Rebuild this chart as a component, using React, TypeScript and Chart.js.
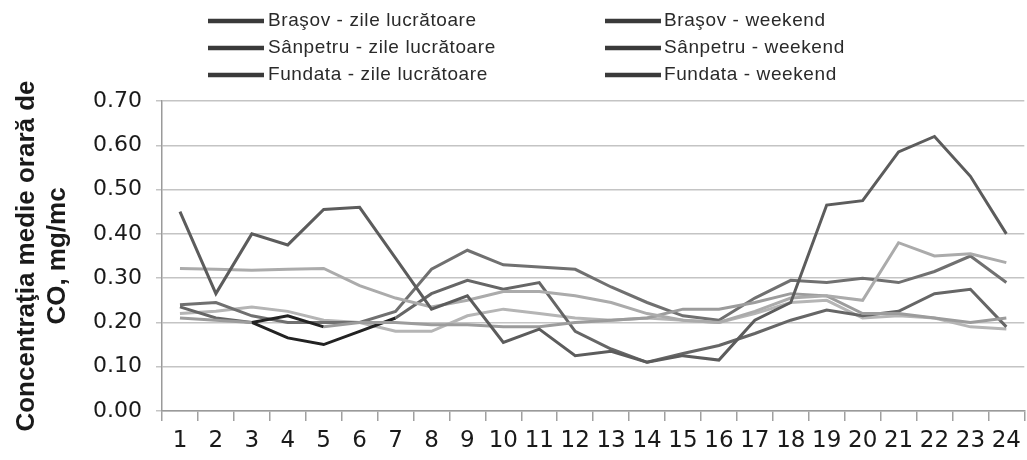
import React, { useEffect, useRef } from "react";
import { Chart, registerables } from "chart.js";

Chart.register(...registerables);

const hours = ["1","2","3","4","5","6","7","8","9","10","11","12","13","14","15","16","17","18","19","20","21","22","23","24"];

const brasovZile = [0.45,0.265,0.40,0.375,0.455,0.46,0.345,0.23,0.26,0.155,0.185,0.125,0.135,0.11,0.125,0.115,0.205,0.245,0.465,0.475,0.585,0.62,0.53,0.40];
const sanpetruZile = [0.322,0.32,0.318,0.32,0.322,0.283,0.255,0.235,0.25,0.27,0.27,0.26,0.245,0.22,0.205,0.20,0.225,0.255,0.26,0.25,0.38,0.35,0.355,0.335];
const fundataZile = [0.21,0.205,0.20,0.215,0.19,0.20,0.20,0.195,0.195,0.19,0.19,0.20,0.205,0.21,0.23,0.23,0.245,0.265,0.26,0.22,0.22,0.21,0.20,0.21];
const brasovWeekend = [0.24,0.245,0.215,0.20,0.20,0.20,0.225,0.32,0.363,0.33,0.325,0.32,0.28,0.245,0.215,0.205,0.255,0.295,0.29,0.30,0.29,0.315,0.35,0.29];
const sanpetruWeekend = [0.235,0.21,0.20,0.165,0.15,0.18,0.21,0.265,0.295,0.275,0.29,0.18,0.14,0.11,0.13,0.148,0.175,0.205,0.228,0.215,0.225,0.265,0.275,0.19];
const fundataWeekend = [0.22,0.225,0.235,0.225,0.205,0.20,0.18,0.18,0.215,0.23,0.22,0.21,0.205,0.21,0.205,0.20,0.22,0.245,0.25,0.21,0.215,0.21,0.19,0.185];

const seriesLabels = [
  "Braşov - zile lucrătoare",
  "Sânpetru - zile lucrătoare",
  "Fundata - zile lucrătoare",
  "Braşov - weekend",
  "Sânpetru - weekend",
  "Fundata - weekend",
];

const yTicks = [0, 0.1, 0.2, 0.3, 0.4, 0.5, 0.6, 0.7];

const legendPlugin = {
  id: "twoColLegend",
  afterDraw(chart: any) {
    const ctx = chart.ctx;
    ctx.save();
    ctx.font = "19px 'Liberation Sans', Arial, sans-serif";
    try { (ctx as any).letterSpacing = "0.6px"; } catch (e) {}
    ctx.textBaseline = "middle";
    ctx.fillStyle = "#2a2a2a";
    const rows = [21, 48, 75];
    const cols = [{ m0: 208, m1: 264, t: 268 }, { m0: 605, m1: 661, t: 664 }];
    chart.data.datasets.forEach((ds: any, i: number) => {
      const c = cols[Math.floor(i / 3)];
      const y = rows[i % 3];
      ctx.strokeStyle = "#3a3a3a";
      ctx.lineWidth = 4.5;
      ctx.beginPath();
      ctx.moveTo(c.m0, y);
      ctx.lineTo(c.m1, y);
      ctx.stroke();
      ctx.fillText(ds.label, c.t, y);
    });
    ctx.restore();
  },
};

export default function App() {
  const ref = useRef<HTMLCanvasElement | null>(null);
  useEffect(() => {
    if (!ref.current) return;
    const blackSeg = (from: number, to: number, base: string) => (c: any) =>
      c.p0DataIndex >= from && c.p0DataIndex <= to ? "#222" : base;
    const mk = (label: string, data: number[], color: string, seg?: any) => ({
      label,
      data,
      borderColor: color,
      backgroundColor: color,
      borderWidth: 3,
      pointRadius: 0,
      tension: 0,
      fill: false,
      segment: seg ? { borderColor: seg } : undefined,
    });
    const chart = new Chart(ref.current, {
      type: "line",
      data: {
        labels: hours,
        datasets: [
          mk(seriesLabels[0], brasovZile, "#5c5c5c"),
          mk(seriesLabels[1], sanpetruZile, "#ababab"),
          mk(seriesLabels[2], fundataZile, "#9c9c9c", blackSeg(2, 3, "#9c9c9c")),
          mk(seriesLabels[3], brasovWeekend, "#707070"),
          mk(seriesLabels[4], sanpetruWeekend, "#666666", blackSeg(2, 5, "#666666")),
          mk(seriesLabels[5], fundataWeekend, "#b5b5b5"),
        ],
      },
      options: {
        animation: false,
        responsive: false,
        maintainAspectRatio: false,
        layout: { padding: { top: 101, right: 1, bottom: 0, left: 0 } },
        plugins: { legend: { display: false }, tooltip: { enabled: false } },
        scales: {
          x: {
            offset: true,
            grid: { offset: true, drawOnChartArea: false, drawTicks: true, tickLength: 10, color: "#a0a0a0", lineWidth: 1.5 },
            border: { color: "#9a9a9a", width: 1.5 },
            ticks: { color: "#1a1a1a", font: { family: "'DejaVu Sans', sans-serif", size: 23 }, padding: 6, maxRotation: 0, autoSkip: false },
            afterFit: (s: any) => { s.height = 49; },
          },
          y: {
            min: 0,
            max: 0.7,
            afterBuildTicks: (s: any) => { s.ticks = yTicks.map((v) => ({ value: v })); },
            grid: { color: "#c4c4c4", lineWidth: 1.5, tickLength: 6 },
            border: { color: "#9a9a9a", width: 1.5 },
            ticks: {
              color: "#1a1a1a",
              font: { family: "'DejaVu Sans', sans-serif", size: 22 },
              padding: 14,
              callback: (v: any) => Number(v).toFixed(2),
            },
            title: {
              display: true,
              text: ["Concentraţia medie orară de", "CO, mg/mc"],
              color: "#1a1a1a",
              font: { family: "'Liberation Sans', Arial, sans-serif", size: 26, weight: "bold", lineHeight: 1.2 },
              padding: { top: 11, bottom: 0 },
            },
            afterFit: (s: any) => { s.width = 162; },
          },
        },
      },
      plugins: [legendPlugin],
    });
    return () => chart.destroy();
  }, []);
  return (
    <div style={{ position: "fixed", left: 0, top: 0, width: 1027, height: 460, background: "#fff" }}>
      <canvas ref={ref} width={1027} height={460} style={{ width: 1027, height: 460 }} />
    </div>
  );
}
